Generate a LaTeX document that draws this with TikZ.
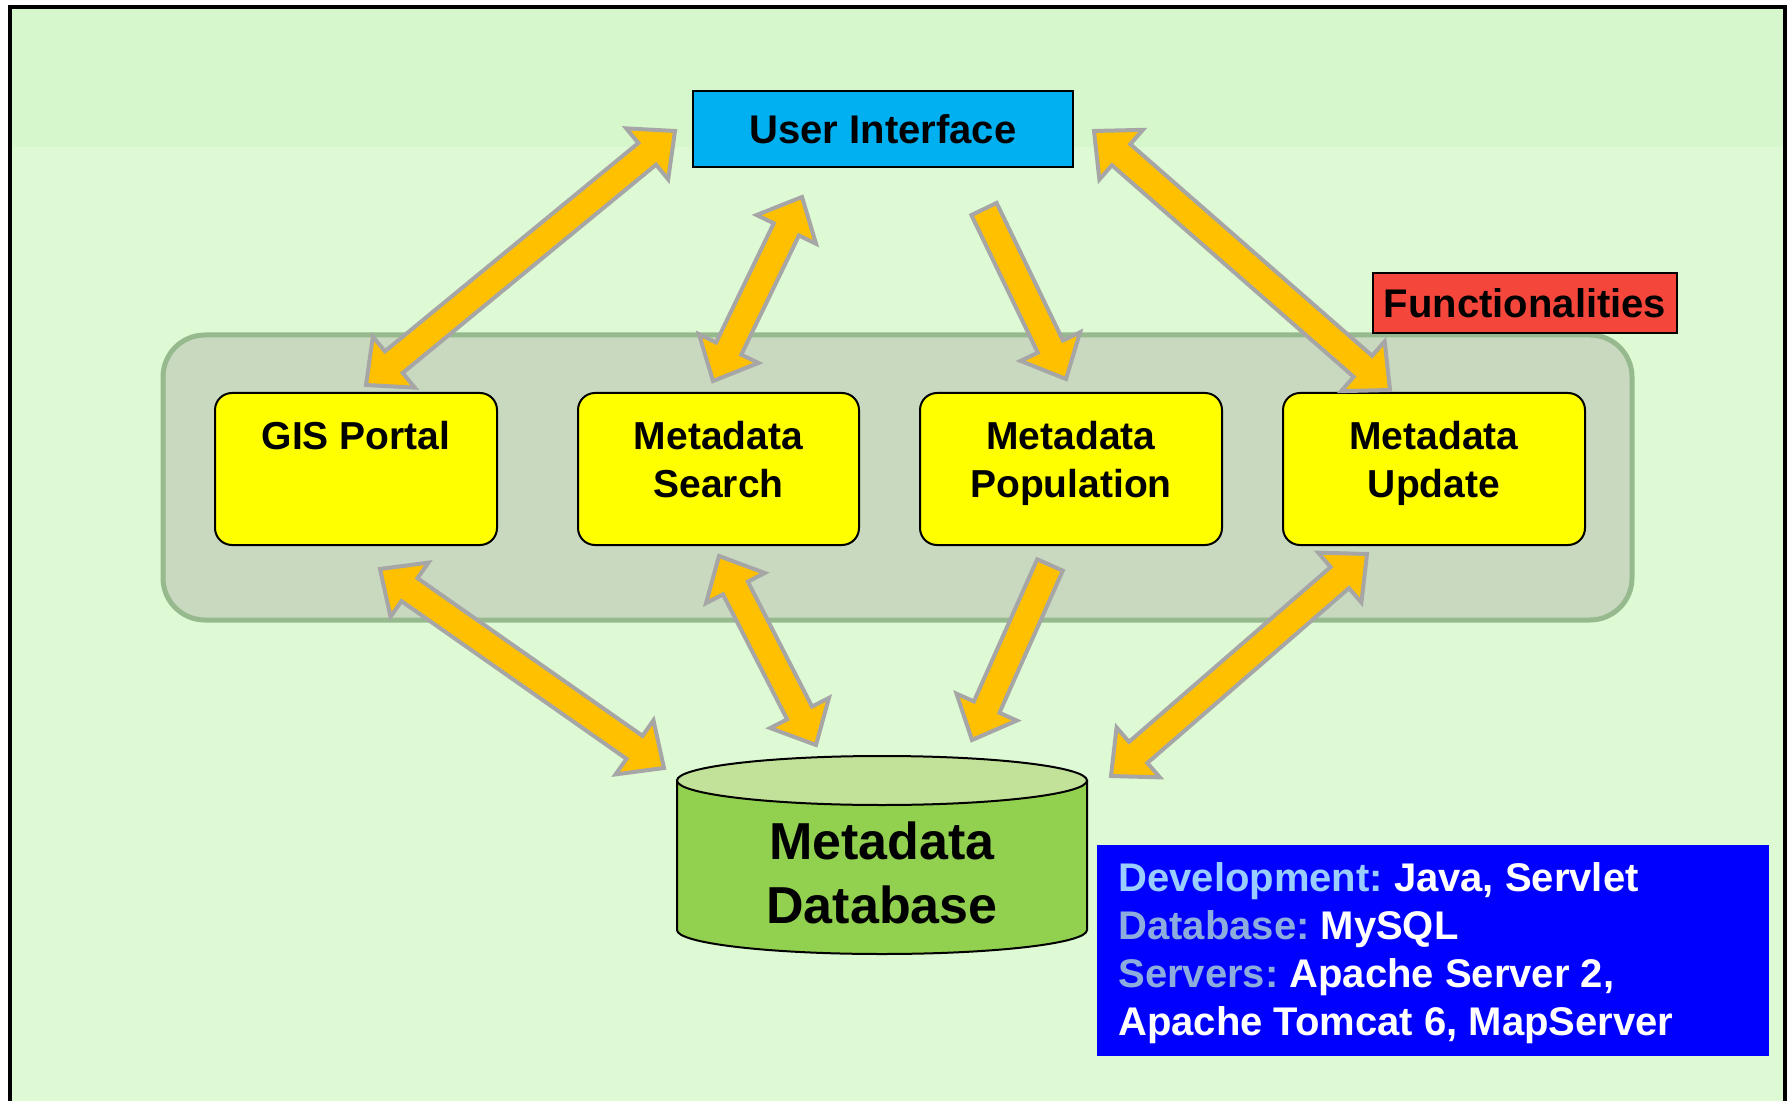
\documentclass[tikz,border=0pt]{standalone}
\usepackage{fontspec}
\setmainfont{Liberation Sans}
\usetikzlibrary{calc}
\definecolor{bggreen}{RGB}{222,250,213}
\definecolor{bgtop}{RGB}{214,247,204}
\definecolor{grpfill}{RGB}{200,217,192}
\definecolor{grpline}{RGB}{150,186,142}
\definecolor{uiblue}{RGB}{0,176,240}
\definecolor{funcred}{RGB}{245,70,60}
\definecolor{boxyellow}{RGB}{255,255,0}
\definecolor{arrfill}{RGB}{255,192,0}
\definecolor{arrline}{RGB}{166,166,166}
\definecolor{dbbody}{RGB}{146,208,80}
\definecolor{dbtop}{RGB}{194,226,154}
\definecolor{infoblue}{RGB}{0,0,255}
\definecolor{lblone}{RGB}{153,204,255}
\definecolor{lbltwo}{RGB}{141,172,222}
\tikzset{
  blockarrow/.style={fill=arrfill, draw=arrline, line width=2pt, line join=miter},
  funcbox/.style={draw=black, line width=1pt, fill=boxyellow, rounded corners=8.5pt,
    minimum height=76pt, inner sep=0pt},
  boxtext/.style={anchor=north, inner sep=0pt, align=center,
    font=\fontsize{19.5}{24}\selectfont\bfseries},
}
\newcommand\dblarr[2]{%
  \draw[blockarrow] let \p1=($(#2)-(#1)$), \n1={atan2(\y1,\x1)} in
  (#1) -- ($(#1)+(\n1:18pt)+(\n1+90:16.5pt)$) -- ($(#1)+(\n1:18pt)+(\n1+90:7pt)$)
  -- ($(#2)+(\n1+180:18pt)+(\n1+90:7pt)$) -- ($(#2)+(\n1+180:18pt)+(\n1+90:16.5pt)$)
  -- (#2) -- ($(#2)+(\n1+180:18pt)+(\n1-90:16.5pt)$) -- ($(#2)+(\n1+180:18pt)+(\n1-90:7pt)$)
  -- ($(#1)+(\n1:18pt)+(\n1-90:7pt)$) -- ($(#1)+(\n1:18pt)+(\n1-90:16.5pt)$) -- cycle;}
\newcommand\onearr[2]{%
  \draw[blockarrow] let \p1=($(#2)-(#1)$), \n1={atan2(\y1,\x1)} in
  ($(#1)+(\n1+90:7pt)$)
  -- ($(#2)+(\n1+180:18pt)+(\n1+90:7pt)$) -- ($(#2)+(\n1+180:18pt)+(\n1+90:16.5pt)$)
  -- (#2) -- ($(#2)+(\n1+180:18pt)+(\n1-90:16.5pt)$) -- ($(#2)+(\n1+180:18pt)+(\n1-90:7pt)$)
  -- ($(#1)+(\n1-90:7pt)$) -- cycle;}
\begin{document}
\begin{tikzpicture}[x=0.5pt, y=-0.5pt]
\clip (0,0) rectangle (1787,1101);
\fill[white] (0,0) rectangle (1787,1101);
% background frame
\fill[bggreen] (10,7) rectangle (1785,1110);
\fill[bgtop] (12,9) rectangle (1783,147);
\draw[black, line width=2pt] (10,1110) -- (10,7) -- (1785,7) -- (1785,1110);

% group
\node (group) [draw=grpline, line width=2.5pt, fill=grpfill, rounded corners=21pt,
  minimum width=734.5pt, minimum height=142.5pt, inner sep=0pt] at (897.5,477.5) {};
\node (func) [draw=black, line width=1pt, fill=funcred, minimum width=152pt,
  minimum height=30pt, inner sep=0pt, font=\fontsize{20}{24}\selectfont\bfseries]
  at (1525,303) {Functionalities};

% user interface
\node (ui) [draw=black, line width=1pt, fill=uiblue, minimum width=190pt,
  minimum height=38pt, inner sep=0pt, font=\fontsize{20}{24}\selectfont\bfseries]
  at (883,129) {User Interface};

% functional boxes
\node (gis) [funcbox, minimum width=141pt] at (356,469) {};
\node (search) [funcbox, minimum width=140.5pt] at (718.5,469) {};
\node (pop) [funcbox, minimum width=151pt] at (1071,469) {};
\node (upd) [funcbox, minimum width=151pt] at (1434,469) {};
\node (gist) [boxtext] at (356,421) {GIS Portal};
\node (searcht) [boxtext] at (718.5,421) {Metadata\\Search};
\node (popt) [boxtext] at (1071,421) {Metadata\\Population};
\node (updt) [boxtext] at (1434,421) {Metadata\\Update};

% database cylinder
\draw[fill=dbbody, line width=1pt] (677,780.5) -- (677,930)
  arc[start angle=180, end angle=360, x radius=102.5pt, y radius=12pt]
  -- (1087,780.5) -- cycle;
\draw[fill=dbtop, line width=1pt] (882,780.5) ellipse[x radius=102.5pt, y radius=12.25pt];
\node (db) [anchor=north, inner sep=0pt, align=center,
  font=\fontsize{26}{32}\selectfont\bfseries] at (882,821) {Metadata\\Database};

% info box
\node (info) [fill=infoblue, minimum width=336pt, minimum height=105.5pt, inner sep=0pt]
  at (1433,950.5) {};
\node (infot) [anchor=north west, inner sep=0pt, align=left,
  font=\fontsize{20}{24}\selectfont\bfseries, text=white] at (1118,862)
  {\textcolor{lblone}{Development:}~Java, Servlet\\
   \textcolor{lbltwo}{Database:}~MySQL\\
   \textcolor{lbltwo}{Servers:}~Apache Server 2,\\
   Apache Tomcat 6, MapServer};

% arrow end points
\coordinate (ui-a) at (675,131);
\coordinate (gis-a) at (366,385);
\coordinate (ui-b) at (802,197);
\coordinate (search-a) at (713,381);
\coordinate (ui-c) at (984,209);
\coordinate (pop-a) at (1066,379);
\coordinate (ui-d) at (1094,131);
\coordinate (upd-a) at (1390,390);
\coordinate (gis-b) at (380,569);
\coordinate (db-a) at (664,768);
\coordinate (search-b) at (719,556);
\coordinate (db-b) at (816,745);
\coordinate (pop-b) at (1050,565);
\coordinate (db-c) at (972,740);
\coordinate (upd-b) at (1367,554);
\coordinate (db-d) at (1111,776);

\dblarr{gis-a}{ui-a}
\dblarr{search-a}{ui-b}
\onearr{ui-c}{pop-a}
\dblarr{ui-d}{upd-a}
\dblarr{gis-b}{db-a}
\dblarr{search-b}{db-b}
\onearr{pop-b}{db-c}
\dblarr{upd-b}{db-d}
\end{tikzpicture}
\end{document}
